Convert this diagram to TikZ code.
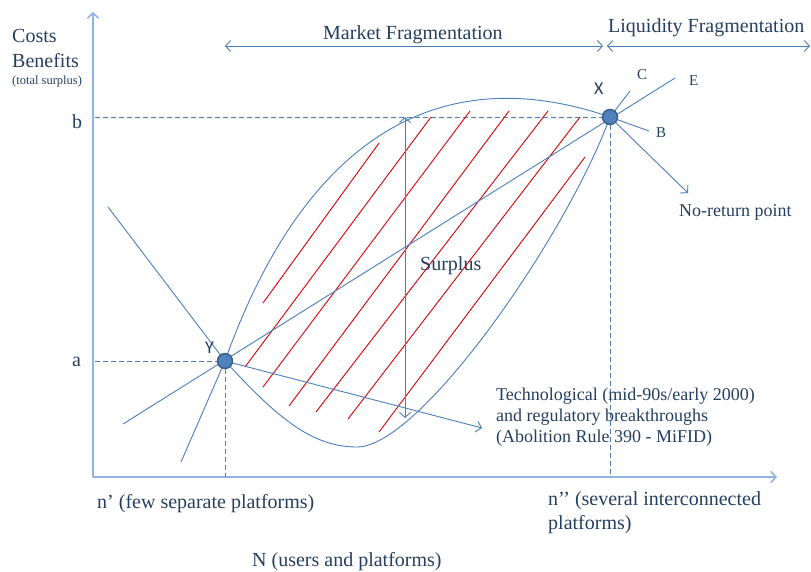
\documentclass[tikz,border=0pt]{standalone}
\usepackage{fontspec}
\setmainfont{Liberation Serif}
\newfontfamily\calib{Carlito}
\usetikzlibrary{arrows.meta}
\definecolor{txtblue}{HTML}{243F60}
\definecolor{lineblue}{HTML}{4A7EBB}
\definecolor{axisblue}{HTML}{8EB4E3}
\definecolor{dotfill}{HTML}{4F81BD}
\definecolor{dotdraw}{HTML}{385D8A}
\definecolor{hatchred}{HTML}{D80000}
\begin{document}
\begin{tikzpicture}[x=1pt,y=-1pt,
  lineb/.style={draw=lineblue, line width=0.9pt},
  dashb/.style={draw=lineblue, line width=0.9pt, dash pattern=on 5pt off 3pt},
  axisb/.style={draw=axisblue, line width=1.6pt},
  hatchln/.style={draw=hatchred, line width=0.9pt},
  tipend/.style={-{Straight Barb[length=5pt,width=11pt]}},
  tipboth/.style={{Straight Barb[length=5pt,width=11pt]}-{Straight Barb[length=5pt,width=11pt]}},
  dotnode/.style={circle, fill=dotfill, draw=dotdraw, line width=1.4pt, minimum size=15pt, inner sep=0},
  lbl/.style={text=txtblue, font=\fontsize{20}{24}\selectfont, inner sep=0, anchor=base west},
  lbls/.style={text=txtblue, font=\fontsize{18}{21}\selectfont, inner sep=0, anchor=base west},
  lblxs/.style={text=txtblue, font=\fontsize{15}{18}\selectfont, inner sep=0, anchor=base west},
  lblsans/.style={text=txtblue, font=\calib\fontsize{18}{21}\selectfont, inner sep=0, anchor=base west},
]
\useasboundingbox (0,0) rectangle (811,571);

% key points
\coordinate (O) at (93,477);
\coordinate (ytop) at (93,12);
\coordinate (xend) at (777,477);
\coordinate (Y) at (225,361);
\coordinate (X) at (610,117);
\coordinate (aL) at (95,361);
\coordinate (bL) at (95,117);
\coordinate (Yb) at (225,477);
\coordinate (Xb) at (610,477);
\coordinate (lensbot) at (357,447);

% axes
\draw[axisb, tipend] (O) -- (ytop);
\draw[axisb, tipend] (O) -- (xend);

% dashed guides
\draw[dashb] (aL) -- (Y);
\draw[dashb] (bL) -- (X);
\draw[dashb] (Y) -- (Yb);
\draw[dashb] (X) -- (Xb);

% top fragmentation arrows
\coordinate (m1) at (225,46);
\coordinate (m2) at (603,46);
\coordinate (l1) at (607,46);
\coordinate (l2) at (810,46);
\draw[lineb, tipboth] (m1) -- (m2);
\draw[lineb, tipboth] (l1) -- (l2);

% hatch lines
\foreach \a/\b/\c/\d in {263/303/379/143, 245/367/431/117, 263/387/470/111, 289/406/509/111, 316/412/548/111, 348/419/580/117, 379/432/585/157}{
  \draw[hatchln] (\a,\b) -- (\c,\d);
}

% lens
\draw[lineb] (Y) .. controls (300,150) and (430,55) .. (X);
\draw[lineb] (Y) .. controls (275,415) and (310,447) .. (lensbot)
                 .. controls (420,447) and (566,237) .. (X);

% lines through Y
\coordinate (yUL) at (108,207);
\coordinate (yLL) at (123,424);
\coordinate (yLB) at (181,462);
\coordinate (tech) at (482,428);
\draw[lineb] (yUL) -- (Y);
\draw[lineb] (yLB) -- (Y);
\coordinate (E) at (675,78);
\draw[lineb] (yLL) -- (E);
\draw[lineb, tipend] (Y) -- (tech);

% lines through X
\coordinate (cEnd) at (630,91);
\coordinate (bEnd) at (649,131);
\coordinate (nr) at (688,193);
\draw[lineb] (X) -- (cEnd);
\draw[lineb] (X) -- (bEnd);
\draw[lineb, tipend] (X) -- (nr);

% surplus arrow
\coordinate (s1) at (405,117);
\coordinate (s2) at (405,418);
\draw[lineb, tipboth] (s1) -- (s2);

% dots
\node[dotnode] (Ydot) at (Y) {};
\node[dotnode] (Xdot) at (X) {};

% texts
\node[lbl] (costs) at (12,42) {Costs};
\node[lbl] (benef) at (12,67) {Benefits};
\node[text=txtblue, font=\fontsize{12.5}{15}\selectfont, inner sep=0, anchor=base west] (tot) at (12,84) {(total surplus)};
\node[lbl] (bl) at (72,128) {b};
\node[lbl] (al) at (72,366) {a};
\node[lbl] (mf) at (323,39) {Market Fragmentation};
\node[lbl] (lf) at (608,32) {Liquidity Fragmentation};
\node[lblsans] (xl) at (594,94) {X};
\node[lblsans] (yl) at (205,353) {Y};
\node[lblxs] (cl) at (637,79) {C};
\node[lblxs] (el) at (689,85) {E};
\node[lblxs] (bl2) at (656,137) {B};
\node[lbls] (nrl) at (679,216) {No-return point};
\node[lbl] (sl) at (420,270) {Surplus};
\node[lbls, align=left, anchor=north west] (tl) at (496,388) {Technological (mid-90s/early 2000)\\and regulatory breakthroughs\\(Abolition Rule 390 - MiFID)};
\node[lbl] (n1) at (97,508) {n’ (few separate platforms)};
\node[lbl, align=left, anchor=north west, font=\fontsize{20}{24}\selectfont] (n2) at (548,491) {n’’ (several interconnected\\platforms)};
\node[lbl] (nl) at (252,566) {N (users and platforms)};
\end{tikzpicture}
\end{document}
